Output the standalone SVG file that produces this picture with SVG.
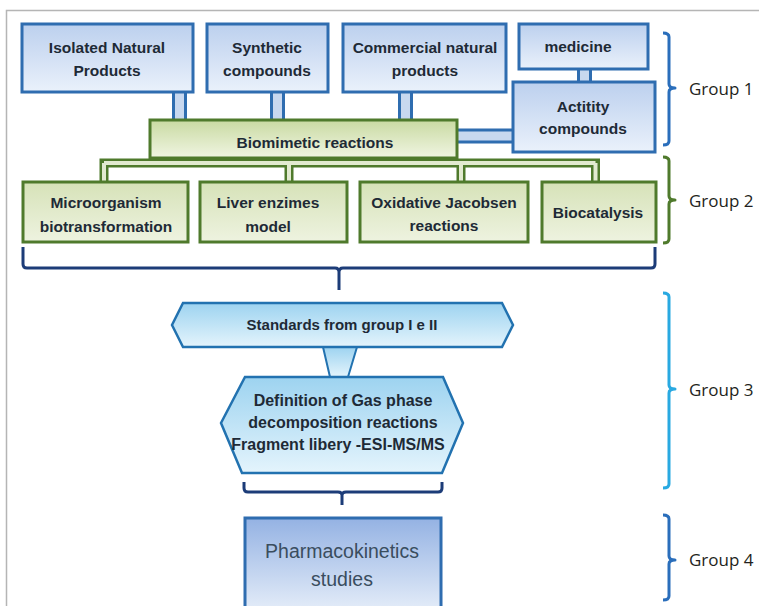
<svg xmlns="http://www.w3.org/2000/svg" width="759" height="606" viewBox="0 0 759 606">
<defs>
<linearGradient id="gBlue" x1="0" y1="0" x2="0" y2="1"><stop offset="0" stop-color="#bcd0ee"/><stop offset="1" stop-color="#eaf1fb"/></linearGradient>
<linearGradient id="gPharma" x1="0" y1="0" x2="0" y2="1"><stop offset="0" stop-color="#94b2e3"/><stop offset="1" stop-color="#e6eef9"/></linearGradient>
<linearGradient id="gGreen" x1="0" y1="0" x2="0" y2="1"><stop offset="0" stop-color="#d6e2b8"/><stop offset="1" stop-color="#eef3e0"/></linearGradient>
<linearGradient id="gBio" x1="0" y1="0" x2="0" y2="1"><stop offset="0" stop-color="#c9daa2"/><stop offset="1" stop-color="#f0f5e2"/></linearGradient>
<linearGradient id="gHex" x1="0" y1="0" x2="0" y2="1"><stop offset="0" stop-color="#9dd3f0"/><stop offset="1" stop-color="#e4f4fc"/></linearGradient>
</defs>
<style>
.bbox{fill:url(#gBlue);stroke:#2f6db0;stroke-width:3}
.gbox{fill:url(#gGreen);stroke:#4f7a2c;stroke-width:3}
.hex{fill:url(#gHex);stroke:#2272b0;stroke-width:2.5;stroke-linejoin:miter}
.t{font-family:"Liberation Sans",Arial,sans-serif;font-weight:bold;font-size:15.5px;fill:#1e2a36;text-anchor:middle}
.h{font-size:16px}
.s{font-size:15px}
.lab{font-family:"Open Sans","Liberation Sans",sans-serif;font-size:17px;fill:#231f20}
.bo{fill:none;stroke:#2f6db0;stroke-width:15}
.bi{fill:none;stroke:#c8d8ef;stroke-width:9}
.go{fill:none;stroke:#4f7a2c;stroke-width:9}
.gi{fill:none;stroke:#e2ead0;stroke-width:4}
.brace{fill:none;stroke-width:3;stroke-linejoin:round}
</style>
<rect width="759" height="606" fill="#ffffff"/>
<path d="M6.5,606 V10.5 H759" fill="none" stroke="#b5b5b5" stroke-width="1.5"/>

<g id="connectors">
<path class="bo" d="M179.5,92 V121 M277.5,92 V121 M405.5,92 V121 M584.5,69 V83 M456,136 H514"/>
<path class="bi" d="M179.5,92 V121 M277.5,92 V121 M405.5,92 V121 M584.5,69 V83 M456,136 H514"/>
<path class="go" d="M99.5,163 H600 M104,158.5 V183 M289,163 V183 M461,163 V183 M595.5,163 V183"/>
<path class="gi" d="M104,163 H595.5 M104,163 V183 M289,163 V183 M461,163 V183 M595.5,163 V183"/>
<polygon points="323,347 357,347 348,377 330,377" fill="url(#gHex)" stroke="#2272b0" stroke-width="2"/>
</g>

<g id="isolated">
<rect class="bbox" x="22" y="24" width="171" height="68"/>
<text class="t" x="107" y="53">Isolated Natural</text>
<text class="t" x="107" y="76">Products</text>
</g>
<g id="synthetic">
<rect class="bbox" x="207" y="24" width="121" height="68"/>
<text class="t" x="267" y="53">Synthetic</text>
<text class="t" x="267" y="76">compounds</text>
</g>
<g id="commercial">
<rect class="bbox" x="343" y="24" width="163" height="68"/>
<text class="t" x="425" y="53">Commercial natural</text>
<text class="t" x="425" y="76">products</text>
</g>
<g id="medicine">
<rect class="bbox" x="519" y="24" width="129" height="45"/>
<text class="t" x="578" y="52">medicine</text>
</g>
<g id="actitity">
<rect class="bbox" x="513" y="82" width="142" height="70"/>
<text class="t" x="583" y="112">Actitity</text>
<text class="t" x="583" y="134">compounds</text>
</g>
<g id="biomimetic">
<rect x="150" y="120" width="307" height="38" fill="url(#gBio)" stroke="#4f7a2c" stroke-width="3"/>
<text class="t" x="315" y="148">Biomimetic reactions</text>
</g>

<g id="microorganism">
<rect class="gbox" x="23" y="182" width="165" height="60"/>
<text class="t" x="106" y="208">Microorganism</text>
<text class="t" x="106" y="232">biotransformation</text>
</g>
<g id="liver">
<rect class="gbox" x="200" y="182" width="147" height="60"/>
<text class="t" x="268" y="208">Liver enzimes</text>
<text class="t" x="268" y="232">model</text>
</g>
<g id="oxidative">
<rect class="gbox" x="360" y="182" width="168" height="60"/>
<text class="t" x="444" y="208">Oxidative  Jacobsen</text>
<text class="t" x="444" y="231">reactions</text>
</g>
<g id="biocatalysis">
<rect class="gbox" x="542" y="182" width="114" height="60"/>
<text class="t" x="598" y="218">Biocatalysis</text>
</g>

<g id="brace-group2-bottom">
<path class="brace" stroke="#1c3c78" d="M23,247 V264 Q23,268 27,268 H335 Q339,268 339,272 V290 M339,272 Q339,268 343,268 H651 Q655,268 655,264 V247"/>
</g>

<g id="standards">
<polygon class="hex" points="172,325 183,303 502,303 513,325 502,347 183,347"/>
<text class="t s" x="342" y="330">Standards from group I e II</text>
</g>
<g id="definition">
<polygon class="hex" points="221,423 245,377 443,377 463,423 442,473 242,473"/>
<text class="t h" x="343" y="406">Definition of Gas phase</text>
<text class="t h" x="343" y="428">decomposition reactions</text>
<text class="t h" x="338" y="450">Fragment libery -ESI-MS/MS</text>
</g>

<g id="brace-group3-bottom">
<path class="brace" stroke="#1c3c78" d="M244,482 V488 Q244,492 248,492 H338 Q342,492 342,495 V505 M342,495 Q342,492 346,492 H438 Q442,492 442,488 V482"/>
</g>

<g id="pharmacokinetics">
<rect x="245" y="518" width="196" height="95" fill="url(#gPharma)" stroke="#2f6db0" stroke-width="3"/>
<text x="342" y="558" font-family="Liberation Sans,Arial,sans-serif" font-size="19.5" fill="#3a4d5e" text-anchor="middle">Pharmacokinetics</text>
<text x="342" y="586" font-family="Liberation Sans,Arial,sans-serif" font-size="19.5" fill="#3a4d5e" text-anchor="middle">studies</text>
</g>

<g id="group1">
<path class="brace" stroke="#2a6ebb" d="M663,33 Q669,33 669,37 V84 Q669,88 675,88 Q669,88 669,92 V141 Q669,145 663,145"/>
<text class="lab" x="689" y="95">Group 1</text>
</g>
<g id="group2">
<path class="brace" stroke="#4f7a2c" d="M663,157 Q669,157 669,161 V196 Q669,200 675,200 Q669,200 669,204 V239 Q669,243 663,243"/>
<text class="lab" x="689" y="207">Group 2</text>
</g>
<g id="group3">
<path class="brace" stroke="#29a9e1" d="M663,293 Q669,293 669,297 V385 Q669,389 675,389 Q669,389 669,393 V484 Q669,488 663,488"/>
<text class="lab" x="689" y="396">Group 3</text>
</g>
<g id="group4">
<path class="brace" stroke="#2a6ebb" d="M663,515 Q669,515 669,519 V556 Q669,560 675,560 Q669,560 669,564 V596 Q669,600 663,600"/>
<text class="lab" x="689" y="566">Group 4</text>
</g>
</svg>
